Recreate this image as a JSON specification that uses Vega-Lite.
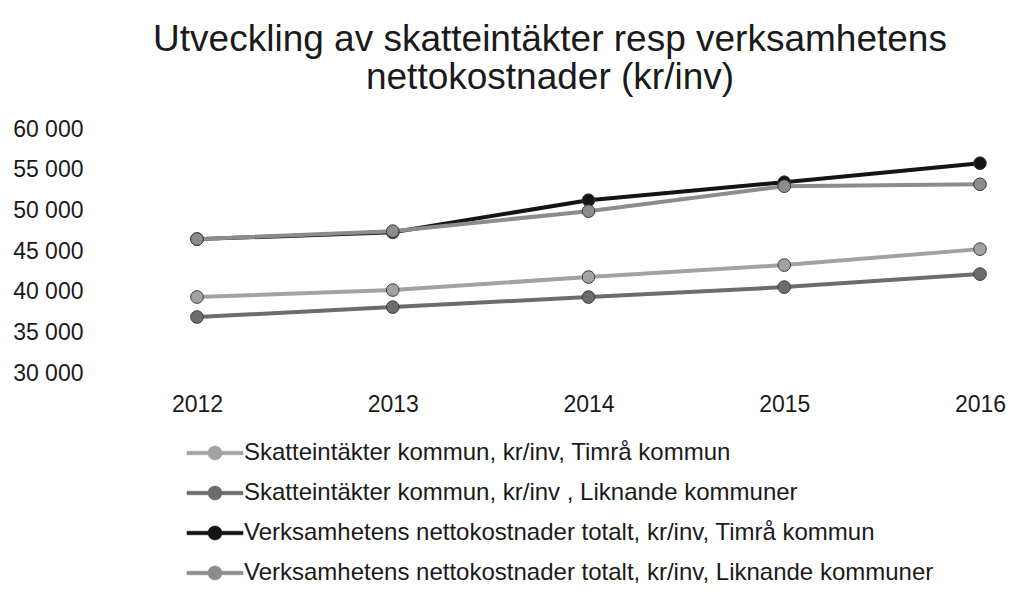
{
  "$schema": "https://vega.github.io/schema/vega-lite/v6.json",
  "width": 900,
  "height": 244,
  "autosize": {"type": "none"},
  "padding": {"left": 100, "top": 129, "right": 10, "bottom": 221},
  "background": "white",
  "config": {
    "font": "Liberation Sans",
    "view": {"stroke": null},
    "axis": {"labelFont": "Liberation Sans", "labelColor": "#1a1a1a", "domain": false, "ticks": false, "grid": false, "title": null}
  },
  "title": {
    "text": ["Utveckling av skatteintäkter resp verksamhetens", "nettokostnader (kr/inv)"],
    "fontSize": 37,
    "fontWeight": "normal",
    "font": "Liberation Sans",
    "color": "#1a1a1a",
    "anchor": "middle",
    "lineHeight": 38,
    "offset": 21
  },
  "data": {
    "values": [
      {"year": "2012", "serie": "Skatteintäkter kommun, kr/inv, Timrå kommun", "value": 39340},
      {"year": "2013", "serie": "Skatteintäkter kommun, kr/inv, Timrå kommun", "value": 40200},
      {"year": "2014", "serie": "Skatteintäkter kommun, kr/inv, Timrå kommun", "value": 41800},
      {"year": "2015", "serie": "Skatteintäkter kommun, kr/inv, Timrå kommun", "value": 43270},
      {"year": "2016", "serie": "Skatteintäkter kommun, kr/inv, Timrå kommun", "value": 45230},
      {"year": "2012", "serie": "Skatteintäkter kommun, kr/inv , Liknande kommuner", "value": 36880},
      {"year": "2013", "serie": "Skatteintäkter kommun, kr/inv , Liknande kommuner", "value": 38100},
      {"year": "2014", "serie": "Skatteintäkter kommun, kr/inv , Liknande kommuner", "value": 39340},
      {"year": "2015", "serie": "Skatteintäkter kommun, kr/inv , Liknande kommuner", "value": 40560},
      {"year": "2016", "serie": "Skatteintäkter kommun, kr/inv , Liknande kommuner", "value": 42160},
      {"year": "2012", "serie": "Verksamhetens nettokostnader totalt, kr/inv, Timrå kommun", "value": 46460},
      {"year": "2013", "serie": "Verksamhetens nettokostnader totalt, kr/inv, Timrå kommun", "value": 47300},
      {"year": "2014", "serie": "Verksamhetens nettokostnader totalt, kr/inv, Timrå kommun", "value": 51250},
      {"year": "2015", "serie": "Verksamhetens nettokostnader totalt, kr/inv, Timrå kommun", "value": 53460},
      {"year": "2016", "serie": "Verksamhetens nettokostnader totalt, kr/inv, Timrå kommun", "value": 55800},
      {"year": "2012", "serie": "Verksamhetens nettokostnader totalt, kr/inv, Liknande kommuner", "value": 46460},
      {"year": "2013", "serie": "Verksamhetens nettokostnader totalt, kr/inv, Liknande kommuner", "value": 47440},
      {"year": "2014", "serie": "Verksamhetens nettokostnader totalt, kr/inv, Liknande kommuner", "value": 49900},
      {"year": "2015", "serie": "Verksamhetens nettokostnader totalt, kr/inv, Liknande kommuner", "value": 52970},
      {"year": "2016", "serie": "Verksamhetens nettokostnader totalt, kr/inv, Liknande kommuner", "value": 53200}
    ]
  },
  "encoding": {
    "x": {
      "field": "year",
      "type": "ordinal",
      "scale": {"type": "point", "range": [97, 880], "padding": 0},
      "axis": {"labelAngle": 0, "labelFontSize": 23, "labelPadding": 20}
    },
    "y": {
      "field": "value",
      "type": "quantitative",
      "scale": {"domain": [30000, 60000], "nice": false, "zero": false},
      "axis": {"values": [30000, 35000, 40000, 45000, 50000, 55000, 60000], "labelFontSize": 23, "labelPadding": 17, "labelExpr": "replace(format(datum.value, ','), ',', ' ')"}
    },
    "color": {
      "field": "serie",
      "type": "nominal",
      "sort": [
        "Skatteintäkter kommun, kr/inv, Timrå kommun",
        "Skatteintäkter kommun, kr/inv , Liknande kommuner",
        "Verksamhetens nettokostnader totalt, kr/inv, Timrå kommun",
        "Verksamhetens nettokostnader totalt, kr/inv, Liknande kommuner"
      ],
      "scale": {
        "domain": [
          "Skatteintäkter kommun, kr/inv, Timrå kommun",
          "Skatteintäkter kommun, kr/inv , Liknande kommuner",
          "Verksamhetens nettokostnader totalt, kr/inv, Timrå kommun",
          "Verksamhetens nettokostnader totalt, kr/inv, Liknande kommuner"
        ],
        "range": ["#a2a2a2", "#6c6c6c", "#141414", "#8c8c8c"]
      },
      "legend": {
        "title": null,
        "orient": "none",
        "legendX": 103,
        "legendY": 312,
        "direction": "vertical",
        "symbolType": "M-4,-0.25H-1V0.25H-4Z M1,-0.25H4V0.25H1Z M1,0A1,1 0 1,1 -1,0A1,1 0 1,1 1,0Z",
        "symbolSize": 196,
        "symbolStrokeWidth": 0.6,
        "symbolOpacity": 1,
        "labelFontSize": 24,
        "labelFont": "Liberation Sans",
        "labelColor": "#1a1a1a",
        "labelLimit": 800,
        "labelOffset": 17,
        "rowPadding": 16
      }
    }
  },
  "layer": [
    {
      "mark": {"type": "line", "strokeWidth": 4}
    },
    {
      "mark": {"type": "point", "filled": true, "size": 160, "opacity": 1, "stroke": "#3c3c3c", "strokeWidth": 1}
    }
  ]
}
